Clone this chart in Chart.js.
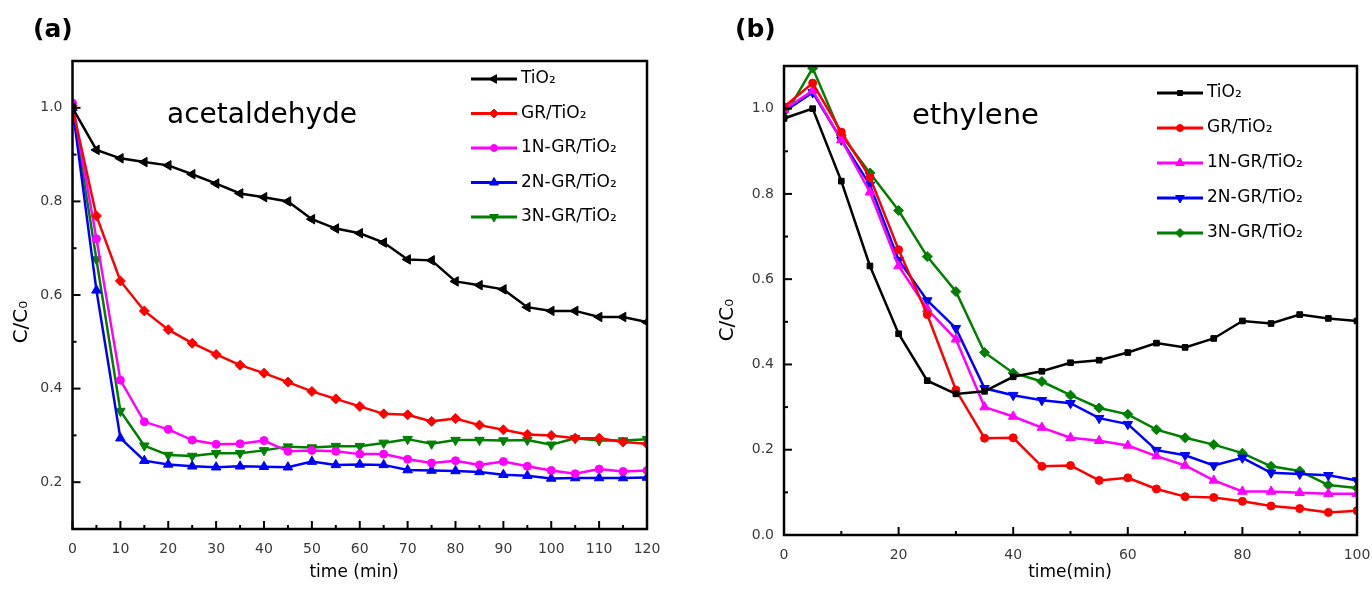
<!DOCTYPE html>
<html>
<head>
<meta charset="utf-8">
<script src="https://cdn.jsdelivr.net/npm/chart.js@4"></script>
<style>
  html, body { margin: 0; padding: 0; background: #fff; }
  #wrap { position: relative; width: 1372px; height: 590px; overflow: hidden; }
  canvas { position: absolute; top: 0; }
</style>
</head>
<body>
<div id="wrap">
  <canvas id="chartA" width="700" height="590" style="left:0"></canvas>
  <canvas id="chartB" width="672" height="590" style="left:700px"></canvas>
</div>
<script>
// --- data (a) acetaldehyde ---
const timeA = [0, 5, 10, 15, 20, 25, 30, 35, 40, 45, 50, 55, 60, 65, 70, 75, 80, 85, 90, 95, 100, 105, 110, 115, 120];
const acetTiO2 = [1.00, 0.91, 0.892, 0.884, 0.877, 0.858, 0.838, 0.817, 0.809, 0.80, 0.762, 0.742, 0.732, 0.712, 0.676, 0.674, 0.629, 0.621, 0.612, 0.574, 0.566, 0.566, 0.553, 0.553, 0.542];
const acetGR   = [1.00, 0.769, 0.63, 0.566, 0.526, 0.497, 0.473, 0.45, 0.433, 0.414, 0.394, 0.378, 0.362, 0.346, 0.344, 0.33, 0.336, 0.322, 0.312, 0.302, 0.30, 0.294, 0.294, 0.286, 0.282];
const acet1N   = [1.01, 0.72, 0.418, 0.329, 0.313, 0.29, 0.281, 0.282, 0.289, 0.266, 0.268, 0.266, 0.26, 0.26, 0.249, 0.241, 0.246, 0.237, 0.244, 0.234, 0.225, 0.218, 0.228, 0.223, 0.225];
const acet2N   = [1.00, 0.61, 0.294, 0.246, 0.238, 0.234, 0.232, 0.234, 0.233, 0.232, 0.244, 0.237, 0.238, 0.237, 0.226, 0.225, 0.224, 0.222, 0.216, 0.214, 0.208, 0.209, 0.209, 0.209, 0.21];
const acet3N   = [1.00, 0.676, 0.352, 0.278, 0.258, 0.256, 0.262, 0.262, 0.268, 0.276, 0.274, 0.277, 0.277, 0.284, 0.292, 0.282, 0.29, 0.29, 0.289, 0.29, 0.28, 0.294, 0.289, 0.289, 0.292];

// --- data (b) ethylene ---
const timeB = [0, 5, 10, 15, 20, 25, 30, 35, 40, 45, 50, 55, 60, 65, 70, 75, 80, 85, 90, 95, 100];
const ethTiO2 = [0.977, 1.0, 0.83, 0.631, 0.472, 0.362, 0.331, 0.337, 0.371, 0.384, 0.404, 0.41, 0.428, 0.45, 0.44, 0.461, 0.502, 0.496, 0.517, 0.508, 0.502];
const ethGR   = [1.004, 1.06, 0.945, 0.839, 0.669, 0.517, 0.34, 0.227, 0.228, 0.161, 0.163, 0.128, 0.134, 0.108, 0.09, 0.088, 0.079, 0.068, 0.062, 0.053, 0.057];
const eth1N   = [0.998, 1.042, 0.927, 0.804, 0.631, 0.53, 0.459, 0.30, 0.278, 0.252, 0.228, 0.221, 0.21, 0.185, 0.163, 0.128, 0.102, 0.102, 0.099, 0.097, 0.097];
const eth2N   = [0.993, 1.038, 0.927, 0.821, 0.645, 0.55, 0.485, 0.344, 0.328, 0.316, 0.309, 0.274, 0.26, 0.199, 0.187, 0.163, 0.181, 0.146, 0.143, 0.14, 0.128];
const eth3N   = [0.98, 1.095, 0.938, 0.849, 0.761, 0.653, 0.571, 0.428, 0.38, 0.36, 0.328, 0.298, 0.283, 0.247, 0.228, 0.212, 0.192, 0.161, 0.15, 0.117, 0.11];

const seriesLabels = ['TiO₂', 'GR/TiO₂', '1N-GR/TiO₂', '2N-GR/TiO₂', '3N-GR/TiO₂'];

const colors = ['#000000', '#ff0000', '#ff00ff', '#0000ff', '#007f00'];
const FONT = "'DejaVu Sans', sans-serif";

function toPoints(xs, ys) {
    return ys.map((y, i) => ({ x: xs[i], y: y }));
}

// frame, inward ticks, titles, annotation and legend
const decorPlugin = {
    id: 'decor',
    afterDraw(chart, args, opts) {
        const ctx = chart.ctx;
        const a = chart.chartArea;
        const xs = chart.scales.x, ys = chart.scales.y;
        ctx.save();

        // frame
        ctx.strokeStyle = '#000';
        ctx.lineWidth = 2.5;
        ctx.strokeRect(a.left, a.top, a.right - a.left, a.bottom - a.top);

        // inward ticks on bottom and left
        ctx.lineWidth = 2;
        xs.ticks.forEach(t => {
            const px = xs.getPixelForValue(t.value);
            const len = opts.isMajorX(t.value) ? 8 : 4;
            ctx.beginPath();
            ctx.moveTo(px, a.bottom);
            ctx.lineTo(px, a.bottom - len);
            ctx.stroke();
        });
        ys.ticks.forEach(t => {
            const py = ys.getPixelForValue(t.value);
            const len = opts.isMajorY(t.value) ? 8 : 4;
            ctx.beginPath();
            ctx.moveTo(a.left, py);
            ctx.lineTo(a.left + len, py);
            ctx.stroke();
        });

        ctx.fillStyle = '#000';

        // panel letter
        ctx.font = 'bold 25px ' + FONT;
        ctx.textAlign = 'left';
        ctx.textBaseline = 'middle';
        ctx.fillText(opts.panel, opts.panelX, 30);

        // axis titles
        ctx.font = '17px ' + FONT;
        ctx.textAlign = 'center';
        ctx.fillText(opts.xTitle, opts.xTitleX, 573);
        ctx.save();
        ctx.translate(opts.yTitleX, opts.yTitleY);
        ctx.rotate(-Math.PI / 2);
        ctx.font = '20px ' + FONT;
        ctx.fillText('C/C₀', 0, 0);
        ctx.restore();

        // gas name
        ctx.font = opts.nameSize + 'px ' + FONT;
        ctx.textAlign = 'left';
        ctx.textBaseline = 'alphabetic';
        ctx.fillText(opts.name, opts.nameX, opts.nameY);

        // legend
        ctx.font = '17px ' + FONT;
        ctx.textBaseline = 'middle';
        chart.data.datasets.forEach((ds, i) => {
            const y = opts.legY + i * opts.legStep;
            ctx.strokeStyle = ds.borderColor;
            ctx.lineWidth = 3;
            ctx.beginPath();
            ctx.moveTo(opts.legX, y);
            ctx.lineTo(opts.legX + 46, y);
            ctx.stroke();
            if (Chart.helpers && Chart.helpers.drawPoint) {
                ctx.fillStyle = ds.pointBackgroundColor;
                ctx.strokeStyle = ds.borderColor;
                ctx.lineWidth = 1;
                Chart.helpers.drawPoint(ctx, {
                    pointStyle: ds.pointStyle,
                    rotation: ds.pointRotation || 0,
                    radius: ds.pointRadius - 0.5,
                    borderWidth: 1
                }, opts.legX + 23, y);
            }
            ctx.fillStyle = '#000';
            ctx.fillText(ds.label, opts.legX + 50, y);
        });

        ctx.restore();
    }
};

function makeChart(id, cfg) {
    const ctx = document.getElementById(id).getContext('2d');
    const datasets = cfg.series.map((ys, i) => ({
        label: seriesLabels[i],
        data: toPoints(cfg.time, ys),
        borderColor: colors[i],
        backgroundColor: colors[i],
        pointBackgroundColor: colors[i],
        pointBorderColor: colors[i],
        pointBorderWidth: 1,
        pointStyle: cfg.styles[i][0],
        pointRotation: cfg.styles[i][1],
        pointRadius: cfg.styles[i][2],
        borderWidth: 2.5,
        tension: 0
    }));

    return new Chart(ctx, {
        type: 'line',
        data: { datasets: datasets },
        options: {
            responsive: false,
            animation: false,
            devicePixelRatio: 1,
            layout: { padding: cfg.padding },
            scales: {
                x: {
                    type: 'linear',
                    min: cfg.xMin, max: cfg.xMax,
                    grid: { display: false, drawTicks: false },
                    border: { display: false },
                    ticks: {
                        stepSize: cfg.xStep,
                        autoSkip: false,
                        maxRotation: 0,
                        padding: 12,
                        color: '#3a3a3a',
                        font: { family: FONT, size: 14 },
                        callback: v => cfg.isMajorX(v) ? String(Math.round(v)) : ''
                    },
                    afterFit: s => { s.height = cfg.xHeight; s.paddingLeft = 0; s.paddingRight = 0; }
                },
                y: {
                    min: cfg.yMin, max: cfg.yMax,
                    grid: { display: false, drawTicks: false },
                    border: { display: false },
                    ticks: {
                        stepSize: 0.1,
                        autoSkip: false,
                        padding: 10,
                        color: '#3a3a3a',
                        font: { family: FONT, size: 14 },
                        callback: v => cfg.isMajorY(v) ? v.toFixed(1) : ''
                    },
                    afterFit: s => { s.width = cfg.yWidth; s.paddingTop = 0; s.paddingBottom = 0; }
                }
            },
            plugins: {
                legend: { display: false },
                tooltip: { enabled: false },
                decor: cfg.decor
            }
        },
        plugins: [decorPlugin]
    });
}

const majorY = v => Math.round(v * 10) % 2 === 0;

makeChart('chartA', {
    time: timeA,
    series: [acetTiO2, acetGR, acet1N, acet2N, acet3N],
    styles: [['triangle', -90, 5.5], ['rectRot', 0, 5], ['circle', 0, 4], ['triangle', 0, 5.5], ['triangle', 180, 5.5]],
    xMin: 0, xMax: 120, xStep: 5,
    yMin: 0.1, yMax: 1.1,
    isMajorX: v => Math.round(v) % 10 === 0,
    isMajorY: majorY,
    padding: { left: 0, top: 61, right: 53, bottom: 0 },
    yWidth: 72.5, xHeight: 61,
    decor: {
        panel: '(a)', panelX: 33,
        xTitle: 'time (min)', xTitleX: 354,
        yTitleX: 22, yTitleY: 322,
        name: 'acetaldehyde', nameX: 167, nameY: 123, nameSize: 28,
        legX: 471, legY: 79, legStep: 34.5,
        isMajorX: v => Math.round(v) % 10 === 0,
        isMajorY: majorY
    }
});

makeChart('chartB', {
    time: timeB,
    series: [ethTiO2, ethGR, eth1N, eth2N, eth3N],
    styles: [['rect', 0, 4], ['circle', 0, 4], ['triangle', 0, 5.5], ['triangle', 180, 5.5], ['rectRot', 0, 5]],
    xMin: 0, xMax: 100, xStep: 10,
    yMin: 0, yMax: 1.1,
    isMajorX: v => Math.round(v) % 20 === 0,
    isMajorY: majorY,
    padding: { left: 0, top: 66, right: 15, bottom: 0 },
    yWidth: 84, xHeight: 55,
    decor: {
        panel: '(b)', panelX: 35,
        xTitle: 'time(min)', xTitleX: 370,
        yTitleX: 28, yTitleY: 320,
        name: 'ethylene', nameX: 212, nameY: 124, nameSize: 29,
        legX: 457, legY: 93, legStep: 35,
        isMajorX: v => Math.round(v) % 20 === 0,
        isMajorY: majorY
    }
});
</script>
</body>
</html>
